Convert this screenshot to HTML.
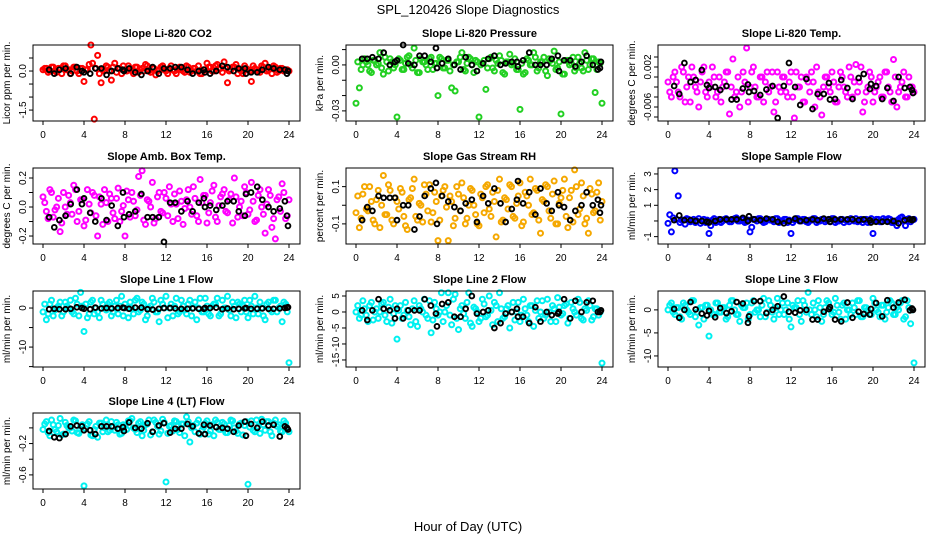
<!DOCTYPE html>
<html><head><meta charset="utf-8"><style>
body{margin:0;background:#fff;}
svg{display:block;font-family:"Liberation Sans",Arial,sans-serif;}
</style></head><body>
<svg id="chart" width="936" height="540" viewBox="0 0 936 540" xmlns="http://www.w3.org/2000/svg">
<rect width="936" height="540" fill="#fff"/>
<text x="468" y="14" text-anchor="middle" font-size="13">SPL_120426  Slope Diagnostics</text>
<text x="468" y="531" text-anchor="middle" font-size="13">Hour of Day (UTC)</text>
</svg>
<script>
// ---- data ----
const hoursColor = [0,0.33,0.67,1,1.33,1.67,2,2.33,2.67,3,3.33,3.67,4,4.33,4.67,5,5.33,5.67,6,6.33,6.67,7,7.33,7.67,8,8.33,8.67,9,9.33,9.67,10,10.33,10.67,11,11.33,11.67,12,12.33,12.67,13,13.33,13.67,14,14.33,14.67,15,15.33,15.67,16,16.33,16.67,17,17.33,17.67,18,18.33,18.67,19,19.33,19.67,20,20.33,20.67,21,21.33,21.67,22,22.33,22.67,23,23.33,23.67,24];
const hoursColor2 = [0.17,0.5,0.83,1.17,1.5,1.83,2.17,2.5,2.83,3.17,3.5,3.83,4.17,4.5,4.83,5.17,5.5,5.83,6.17,6.5,6.83,7.17,7.5,7.83,8.17,8.5,8.83,9.17,9.5,9.83,10.17,10.5,10.83,11.17,11.5,11.83,12.17,12.5,12.83,13.17,13.5,13.83,14.17,14.5,14.83,15.17,15.5,15.83,16.17,16.5,16.83,17.17,17.5,17.83,18.17,18.5,18.83,19.17,19.5,19.83,20.17,20.5,20.83,21.17,21.5,21.83,22.17,22.5,22.83,23.17,23.5,23.83];
const hoursBlack = [0.6,1.1,1.6,2.2,2.7,3.3,3.8,4.0,4.6,5.1,5.7,6.2,6.7,7.3,7.8,7.9,8.4,9.0,9.6,10.2,10.7,11.3,11.8,12.4,12.9,13.5,14.1,14.6,15.2,15.7,15.8,16.3,16.9,17.5,18.0,18.6,19.1,19.7,19.8,20.3,20.9,21.4,22.0,22.5,23.1,23.6,23.8,23.9];
const xTicks = [0,4,8,12,16,20,24];

const co2Color = [0.05,0.1,0.0,0.15,-0.05,0.1,0.2,0.05,-0.1,0.15,0.0,0.1,-0.4,0.05,1.0,-1.85,0.6,-0.45,0.0,0.15,-0.35,0.3,0.1,-0.1,0.05,0.2,0.0,0.15,-0.05,0.1,0.25,0.0,0.1,-0.15,0.05,0.2,0.0,0.1,0.05,-0.1,0.15,0.0,0.2,-0.05,0.1,0.0,-0.1,0.05,0.3,0.15,0.0,0.25,0.1,0.35,-0.45,0.05,0.15,-0.1,0.0,0.2,0.05,-0.4,0.1,0.0,0.2,0.3,0.05,-0.1,0.15,0.0,0.1,0.05,0.0];
const co2Color2 = [0.1,-0.05,0.15,0.0,0.1,-0.1,0.2,0.05,0.0,0.15,-0.1,0.1,0.05,0.25,0.3,0.1,-0.1,0.05,0.2,0.0,0.15,-0.05,0.1,0.2,0.0,0.1,-0.1,0.15,0.05,0.0,0.2,-0.05,0.1,0.0,0.15,0.05,-0.1,0.2,0.0,0.1,0.05,-0.05,0.15,0.0,0.1,0.2,-0.1,0.05,0.15,0.0,0.2,0.1,-0.05,0.1,0.0,0.15,0.25,0.05,-0.1,0.1,0.0,0.2,0.05,-0.05,0.15,0.0,0.1,0.2,-0.05,0.1,0.0,0.05];
const co2Black = [0.05,-0.1,0.05,0.1,-0.1,0.15,0.0,-0.05,-0.1,0.1,0.1,-0.15,0.0,0.1,0.05,0.0,0.1,-0.05,-0.15,0.0,0.15,-0.1,0.1,0.1,0.15,0.15,0.05,-0.1,0.0,0.05,-0.05,-0.1,0.0,0.2,0.15,0.0,0.1,0.1,-0.1,-0.05,-0.05,0.05,0.15,0.1,0.05,0.05,-0.1,0.0];
const presColor = [-0.025,-0.015,0.0,0.002,-0.004,0.003,0.0,0.008,-0.006,0.002,0.004,-0.002,-0.034,0.003,-0.003,0.005,0.0,0.011,-0.005,0.004,0.002,-0.003,0.005,0.001,-0.02,0.004,-0.002,0.003,-0.015,-0.017,0.002,0.008,-0.004,0.005,0.0,0.003,-0.034,0.001,-0.016,0.004,-0.002,0.003,0.006,-0.005,0.002,0.007,0.001,-0.003,-0.029,-0.006,0.004,0.0,0.008,-0.004,0.002,0.005,-0.007,0.003,0.009,-0.002,-0.032,-0.006,0.003,0.001,-0.004,0.005,-0.002,0.008,-0.003,0.004,-0.018,0.002,-0.025];
const presColor2 = [0.002,-0.003,0.004,0.0,-0.005,0.003,0.001,-0.002,0.005,-0.004,0.002,0.0,0.004,-0.003,0.001,0.006,-0.002,0.003,-0.005,0.002,0.0,0.004,-0.003,0.001,0.005,-0.002,0.003,-0.004,0.0,0.002,0.005,-0.003,0.001,0.004,-0.005,0.002,0.0,0.003,-0.002,0.005,-0.004,0.001,0.003,-0.006,0.002,0.0,0.004,-0.003,0.001,-0.005,0.003,0.0,0.005,-0.002,0.002,-0.004,0.004,0.001,-0.003,0.002,-0.006,0.003,0.0,0.005,-0.002,0.001,-0.004,0.003,0.0,0.004,-0.003,0.001];
const presBlack = [0.004,0.004,0.005,0.004,0.008,0.0,0.002,0.003,0.013,0.001,0.0,0.006,0.006,0.002,0.011,-0.002,0.001,0.004,0.0,-0.003,0.005,0.0,-0.004,0.001,0.004,0.006,0.0,0.001,0.002,0.002,-0.001,0.003,0.008,0.0,0.0,0.0,0.004,0.006,-0.004,0.003,0.003,-0.001,0.002,0.006,0.0,-0.003,-0.002,0.002];
const tempColor = [-0.001,-0.004,0.001,-0.003,0.002,-0.005,0.0,0.002,-0.002,-0.006,0.001,-0.003,-0.001,0.002,-0.004,0.0,-0.002,0.001,-0.0074,0.0036,-0.003,-0.006,0.001,0.0058,-0.002,0.002,-0.004,0.0,-0.005,0.001,-0.002,-0.007,0.001,-0.003,0.0,-0.004,0.001,-0.0082,-0.002,0.0,-0.005,-0.001,0.001,-0.006,-0.003,-0.0076,0.0,-0.002,0.001,-0.005,-0.002,0.0,-0.003,0.002,-0.004,0.0025,-0.001,-0.007,-0.003,0.001,-0.005,-0.002,0.0,-0.004,0.001,-0.003,0.0035,-0.006,-0.002,0.001,-0.004,-0.002,-0.003];
const tempColor2 = [-0.003,0.0,-0.001,-0.004,0.001,-0.002,-0.005,0.0,-0.003,-0.001,0.002,-0.004,-0.002,0.0,-0.003,-0.005,-0.001,0.001,-0.002,-0.004,0.0,-0.003,-0.001,-0.005,0.001,-0.002,-0.004,0.0,-0.001,-0.003,0.001,-0.005,-0.002,0.0,-0.003,-0.001,-0.004,0.001,-0.002,-0.005,0.0,-0.003,-0.001,0.002,-0.004,-0.002,0.0,-0.003,-0.001,-0.005,0.001,-0.002,-0.004,0.0,-0.001,-0.003,0.002,-0.005,-0.002,0.0,-0.003,-0.001,-0.004,0.001,-0.002,-0.005,0.0,-0.003,-0.001,-0.004,0.0,-0.002];
const tempBlack = [-0.0018,-0.0034,0.0028,-0.001,-0.0006,0.0014,-0.0016,-0.0022,-0.002,-0.0026,-0.0018,-0.0045,-0.0045,-0.0023,-0.0015,-0.003,-0.0028,-0.0036,-0.0025,-0.0018,-0.0082,-0.0018,0.0028,-0.002,-0.0056,-0.0004,-0.0064,-0.0034,-0.0034,-0.0012,-0.0045,-0.0044,-0.0006,-0.0022,-0.0044,-0.0002,0.0006,-0.0024,-0.0014,-0.0018,-0.0044,-0.0022,-0.0048,0.0,-0.0022,-0.002,-0.0026,-0.0032];
const ambColor = [0.07,-0.03,0.12,-0.07,0.0,-0.17,0.1,-0.05,0.03,0.15,-0.1,0.05,-0.13,0.12,-0.04,0.08,-0.2,0.02,0.12,-0.1,0.06,-0.08,0.13,-0.03,-0.2,0.05,0.1,-0.06,0.21,0.25,-0.12,0.04,0.17,-0.08,0.1,-0.04,0.06,0.14,-0.1,0.02,0.11,-0.12,0.05,0.0,0.14,-0.06,0.19,0.08,-0.11,0.03,0.15,-0.1,0.07,0.12,-0.04,0.09,0.2,-0.07,0.04,0.14,-0.05,0.17,-0.1,0.08,0.0,-0.18,0.12,-0.14,-0.22,0.07,0.16,-0.08,0.05];
const ambColor2 = [0.03,-0.08,0.1,-0.02,0.06,-0.11,0.0,0.08,-0.05,0.12,-0.03,0.05,-0.09,0.02,0.1,-0.06,0.07,-0.12,0.03,0.09,-0.04,0.06,-0.1,0.01,0.11,-0.07,0.04,-0.02,0.08,-0.09,0.05,0.0,-0.11,0.07,-0.03,0.1,-0.06,0.02,0.09,-0.08,0.04,-0.01,0.12,-0.05,0.06,-0.1,0.03,0.08,-0.04,0.11,-0.07,0.01,0.09,-0.03,0.05,-0.11,0.07,0.0,-0.06,0.1,-0.02,0.04,-0.09,0.12,-0.05,0.02,0.08,-0.08,0.05,-0.03,0.1,-0.06];
const ambBlack = [-0.07,-0.14,-0.09,-0.06,0.02,0.12,0.02,0.06,-0.04,-0.1,0.06,-0.09,0.01,-0.13,0.1,-0.07,-0.05,-0.03,0.09,-0.07,-0.07,-0.07,-0.24,0.03,0.03,-0.03,0.04,-0.03,0.03,0.06,0.0,0.01,-0.02,0.01,0.04,0.04,-0.03,-0.06,0.09,0.1,0.14,0.05,0.0,-0.03,-0.01,0.04,-0.06,-0.13];
const rhColor = [-0.04,-0.12,0.06,-0.02,0.1,-0.08,0.03,-0.12,0.16,-0.05,0.08,-0.1,0.02,0.09,-0.06,-0.13,0.04,0.14,-0.08,0.0,0.11,-0.03,-0.09,0.07,-0.19,0.05,0.1,-0.19,0.02,-0.07,0.06,0.12,-0.1,0.0,0.08,-0.05,-0.11,0.04,0.1,-0.02,0.07,-0.17,0.14,-0.08,0.03,0.11,-0.06,0.01,0.12,-0.09,0.05,0.14,-0.04,0.08,-0.15,0.02,0.1,-0.07,0.13,-0.1,0.04,0.14,-0.12,0.08,0.19,-0.05,0.12,-0.1,-0.15,0.06,-0.03,0.12,0.02];
const rhColor2 = [0.05,-0.07,0.1,-0.03,0.02,-0.1,0.08,0.0,-0.05,0.11,-0.08,0.04,-0.02,0.07,-0.11,0.03,0.09,-0.06,0.01,-0.09,0.06,0.11,-0.04,0.02,-0.08,0.08,-0.01,0.05,-0.11,0.1,-0.03,0.04,-0.07,0.09,0.0,-0.1,0.06,-0.04,0.11,-0.06,0.02,0.08,-0.09,0.04,-0.02,0.1,-0.07,0.05,-0.11,0.07,0.0,-0.05,0.09,-0.08,0.03,0.11,-0.03,0.06,-0.1,0.01,0.08,-0.06,0.04,-0.09,0.1,-0.02,0.05,-0.07,0.09,-0.04,0.07,-0.08];
const rhBlack = [-0.08,-0.01,-0.03,0.05,0.04,0.04,0.04,-0.08,0.0,0.0,-0.13,-0.06,0.05,0.09,0.12,-0.1,0.05,0.02,-0.01,-0.03,0.01,0.03,-0.09,0.05,0.01,0.09,0.01,-0.09,-0.02,0.03,0.13,0.01,0.07,-0.05,0.09,0.01,-0.03,0.07,0.0,-0.01,-0.08,-0.03,0.0,0.07,0.0,0.03,-0.04,0.0];
const sampColor = [-0.15,-0.7,3.2,1.6,0.05,-0.2,0.1,0.0,-0.1,0.15,0.0,-0.1,-0.8,0.05,-0.1,0.1,0.0,0.15,-0.05,0.1,0.2,0.0,0.1,-0.05,-0.7,0.1,0.0,0.15,-0.1,0.1,0.05,-0.05,0.15,0.0,0.1,-0.1,-0.8,0.05,0.15,0.0,0.1,-0.1,0.05,0.15,0.0,0.1,-0.05,0.1,0.15,-0.1,0.0,0.1,0.05,-0.05,0.1,0.15,0.0,-0.1,0.1,0.0,-0.8,0.1,-0.05,0.15,0.0,0.1,-0.1,-0.3,0.2,0.0,0.1,-0.05,0.1];
const sampColor2 = [0.4,0.2,0.1,-0.1,0.05,0.15,-0.05,0.1,0.0,-0.15,0.1,0.05,-0.3,0.15,0.0,-0.1,0.1,0.05,-0.05,0.15,0.0,0.1,-0.1,0.05,-0.4,0.1,0.15,0.0,-0.05,0.1,0.05,0.15,-0.1,0.0,0.1,0.05,-0.1,0.15,0.0,0.1,-0.05,0.05,0.15,-0.1,0.0,0.1,0.05,-0.05,0.15,0.0,0.1,-0.1,0.05,0.15,0.0,-0.05,0.1,0.05,-0.1,0.15,0.0,0.1,-0.05,0.05,0.15,-0.1,0.0,0.1,0.25,-0.3,0.15,0.05];
const sampBlack = [0.05,0.35,0.05,0.05,0.0,0.0,-0.05,-0.1,0.0,0.1,0.1,0.1,0.1,0.2,0.0,0.3,0.1,0.05,0.15,0.1,-0.05,-0.15,0.0,0.15,0.0,0.05,0.1,0.05,0.15,0.1,-0.05,0.1,0.1,0.1,0.1,0.05,0.1,0.05,-0.1,-0.05,-0.05,-0.05,0.0,-0.15,0.05,0.1,0.05,0.1];
const l1Color = [-1,-3,1,-2,0,1.5,-1,0.5,2,-1.5,1,4,-6,-2.5,1.5,-1.5,-1,2,0,1,-2,0.5,-1.5,3,1,-2.5,0,2,-1,1.5,-3,0,2.5,-1,-3.5,1,3,0,-2,2.5,-1,0.5,-1.5,2,0,-3,2.5,-1,0.5,-2,1,2.5,-1.5,0,3,-2,0.5,1.5,-1,2,-2.5,0.5,3,-1.5,0,-3,1.5,-1,2,0,-3.5,1,-14];
const l1Color2 = [1,-1.5,2,-0.5,0.5,-2,1.5,0,-1,2.5,-2,0.5,1,-1.5,2,0,-2.5,1,-0.5,1.5,-1,2,0.5,-2,0,1.5,-1.5,2.5,-0.5,1,-2,0.5,1.5,-1,2,0,-2.5,1,0.5,-1.5,2,-0.5,1,-2,1.5,0,-1,2.5,-1.5,0.5,1,-2,2,0,-0.5,1.5,-2.5,1,0.5,-1,2,-1.5,0,1.5,-2,1,-0.5,2,-1,0.5,1.5,-1];
const l1Black = [-0.3,-0.2,-0.3,-0.3,-0.2,0.2,0.0,-0.2,-0.3,0.1,-0.1,0.0,-0.1,0.0,0.1,0.0,-0.2,0.1,0.1,-0.3,-0.4,-0.2,0.0,0.0,-0.1,-0.2,-0.2,-0.1,-0.2,-0.2,0.0,0.0,0.1,-0.3,-0.1,-0.3,-0.2,-0.1,0.0,-0.2,-0.2,-0.1,-0.2,-0.2,-0.1,0.0,0.1,0.2];
const l2Color = [0,-2,3.5,-1,2,-2.5,1,0,3,-3,4,-0.5,-8.5,2,-1,0.5,-4,3.5,-4.5,1,4,-2,-6.5,3,-1,6,0,6,-4,5.5,-5.5,2,-2,6,-4.5,1,-3,4,-1.5,5,-4,2,6,-2,1,-5,3,0,-3,4,-1,2,-4.5,3.5,0,-2,4,-3,1,4.5,-1,2,-3.5,3,0,4,-2,1,3.5,-2.5,1,-1,-16];
const l2Color2 = [2,-1,1,-3,3,0,-2,2.5,-1,1.5,-3.5,2,0.5,-2,3,-1.5,1,-3,2,0,-1,3.5,-2.5,1,0,-3,2,-1,4,-2,1,-0.5,3,-3.5,1.5,0,-2,2.5,-1,0.5,3,-3,1,-1.5,2,0,-2.5,3,-1,1,-3,2,0.5,-2,3.5,-1,0,2,-3,1.5,-0.5,2.5,-2,1,-1,3,-2.5,0.5,2,-1.5,1,0];
const l2Black = [0.5,-2.5,0.5,4,1,0.5,-2,1,-2,0.5,0.5,0.5,4,2,-0.5,-4.5,2.5,3,-1.5,-1.5,1,5,-0.5,0,0.5,-5,-3.5,-0.5,0,1,-1.5,-1.5,-3.5,1.5,-3,0,-1,-0.5,0,4,-2,3.5,0,3,3.5,0,0,0.5];
const l3Color = [0,1.5,-1,0.5,-2,1,-0.5,2,-1.5,-3.3,0.5,1,-5.7,-1,1.5,-0.5,0.5,-2,1,2,-1,-2.5,0.5,1.5,-1,2,0,-1.5,2.5,-0.5,1,-2,2.5,0,-1,1.5,-3.7,0.5,2,-2.5,1,3.8,-1,0,2,-2.5,0.5,1.5,-1,2.5,-0.5,1,-2,0,1.5,-1,2,-1.5,0.5,-1,2.5,0,-1.5,1,-0.5,2,-1,0.5,1.5,-2,2,-3,-11.5];
const l3Color2 = [1,-0.5,0.5,-1.5,1.5,0,-1,2,-0.5,0.5,-2,1,0,-1,1.5,-0.5,0.5,-1.5,2,0,-1,1,0.5,-2,1.5,-0.5,0,1,-1.5,2,-0.5,0.5,-1,1.5,0,-2,1,0.5,-1,2,-0.5,0,1.5,-1.5,0.5,-1,2,0,-0.5,1,-2,1.5,0,-1,0.5,2,-1.5,0.5,0,-1,1.5,-0.5,1,-2,0.5,1.5,-1,0,2,-1.5,0.5,0];
const l3Black = [0.2,-1.7,0.0,1.7,0.1,-0.8,-1.2,-0.2,-1.6,0.4,-0.7,-0.3,1.7,1.4,-2.8,-1.4,1.9,1.9,-0.7,0.0,0.8,2.9,-0.4,-0.6,-0.1,0.0,-2.1,-2.1,-0.4,0.2,0.6,-2.1,-2.5,1.6,-1.7,-0.4,-0.9,-1.0,0.2,1.5,-1.4,2.1,0.5,1.6,2.2,-0.1,0.3,0.0];
const l4Color = [-0.02,0.08,-0.1,0.04,-0.05,0.12,-0.08,0.03,0.0,0.1,-0.06,0.02,-0.74,0.05,-0.09,-0.02,-0.12,0.06,0.0,-0.05,0.08,-0.03,0.04,-0.07,0.02,0.09,0.12,-0.02,0.06,-0.1,0.04,0.1,-0.05,0.07,-0.08,0.11,-0.69,0.02,-0.04,0.08,-0.06,0.05,0.14,-0.18,0.03,0.06,-0.08,0.01,0.09,-0.04,-0.1,0.07,-0.02,0.05,-0.06,0.1,0.0,-0.07,0.06,0.03,-0.72,0.09,-0.05,0.02,0.11,-0.03,0.08,-0.1,0.1,0.04,-0.05,0.06,-0.05];
const l4Color2 = [0.05,-0.06,0.1,-0.02,0.03,-0.09,0.07,0.0,-0.04,0.09,-0.07,0.04,-0.01,0.08,-0.1,0.02,0.06,-0.05,0.1,-0.03,0.01,0.07,-0.08,0.04,-0.02,0.09,0.0,-0.06,0.08,-0.03,0.05,-0.09,0.1,0.02,-0.04,0.07,-0.07,0.03,0.09,-0.02,0.05,-0.1,0.08,0.0,-0.05,0.1,-0.03,0.06,-0.08,0.04,0.1,-0.02,0.07,-0.06,0.03,0.09,-0.04,0.05,-0.09,0.08,0.01,-0.03,0.1,-0.07,0.04,0.08,-0.05,0.06,0.02,-0.04,0.09,-0.02];
const l4Black = [-0.04,-0.12,-0.13,-0.08,0.02,0.03,0.02,-0.03,-0.03,-0.08,0.02,0.02,0.02,-0.01,0.01,-0.04,0.07,0.0,-0.01,0.06,-0.05,0.03,0.06,-0.06,-0.01,-0.01,0.05,0.02,-0.07,0.04,-0.08,0.03,0.01,0.0,-0.01,-0.05,0.03,0.08,-0.1,0.05,0.0,0.08,0.03,0.04,-0.11,0.02,0.0,-0.02];

// ---- panel layout (geometry, not data) ----
const cols=[33,346,658], rows=[45,168,291,413], W=267, H=76;
const panels=[
 {name:"co2",title:"Slope Li-820 CO2",yl:"Licor ppm per min.",c:0,r:0,col:"#ff0000",cv:co2Color,cv2:co2Color2,bv:co2Black,y0:1.0,y1:-1.92,
  ticks:[0.5,0,-0.5,-1,-1.5],labs:["","0.0","","","-1.5"]},
 {name:"pressure",title:"Slope Li-820 Pressure",yl:"kPa per min.",c:1,r:0,col:"#22d022",cv:presColor,cv2:presColor2,bv:presBlack,y0:0.013,y1:-0.0366,
  ticks:[0.01,0,-0.01,-0.02,-0.03],labs:["","0.00","","","-0.03"]},
 {name:"temp",title:"Slope Li-820 Temp.",yl:"degrees C per min.",c:2,r:0,col:"#ff00ff",cv:tempColor,cv2:tempColor2,bv:tempBlack,y0:0.0064,y1:-0.0088,
  ticks:[0.004,0.002,0,-0.002,-0.004,-0.006,-0.008],labs:["","0.002","","","","-0.006",""]},
 {name:"amb-box-temp",title:"Slope Amb. Box Temp.",yl:"degrees C per min.",c:0,r:1,col:"#ff00ff",cv:ambColor,cv2:ambColor2,bv:ambBlack,y0:0.269,y1:-0.255,
  ticks:[0.2,0.1,0,-0.1,-0.2],labs:["0.2","","0.0","","-0.2"]},
 {name:"gas-rh",title:"Slope Gas Stream RH",yl:"percent per min.",c:1,r:1,col:"#f5a800",cv:rhColor,cv2:rhColor2,bv:rhBlack,y0:0.2,y1:-0.208,
  ticks:[0.1,0,-0.1],labs:["0.1","","-0.1"]},
 {name:"sample-flow",title:"Slope Sample Flow",yl:"ml/min per min.",c:2,r:1,col:"#0000ff",cv:sampColor,cv2:sampColor2,bv:sampBlack,y0:3.38,y1:-1.47,
  ticks:[3,2,1,0,-1],labs:["3","2","1","","-1"]},
 {name:"line1-flow",title:"Slope Line 1 Flow",yl:"ml/min per min.",c:0,r:2,col:"#00f0f0",cv:l1Color,cv2:l1Color2,bv:l1Black,y0:4.36,y1:-15.1,
  ticks:[0,-5,-10,-15],labs:["0","","-10",""]},
 {name:"line2-flow",title:"Slope Line 2 Flow",yl:"ml/min per min.",c:1,r:2,col:"#00f0f0",cv:l2Color,cv2:l2Color2,bv:l2Black,y0:6.56,y1:-17.2,
  ticks:[5,0,-5,-10,-15],labs:["5","0","-5","-10","-15"]},
 {name:"line3-flow",title:"Slope Line 3 Flow",yl:"ml/min per min.",c:2,r:2,col:"#00f0f0",cv:l3Color,cv2:l3Color2,bv:l3Black,y0:4.1,y1:-12.4,
  ticks:[0,-5,-10],labs:["0","-5","-10"]},
 {name:"line4-flow",title:"Slope Line 4 (LT) Flow",yl:"ml/min per min.",c:0,r:3,col:"#00f0f0",cv:l4Color,cv2:l4Color2,bv:l4Black,y0:0.19,y1:-0.78,
  ticks:[0,-0.2,-0.4,-0.6],labs:["","-0.2","","-0.6"]}
];
const NS="http://www.w3.org/2000/svg";
const svg=document.getElementById('chart');
function mk(tag,attrs,parent){const e=document.createElementNS(NS,tag);for(const k in attrs)e.setAttribute(k,attrs[k]);(parent||svg).appendChild(e);return e;}
panels.forEach(p=>{
  const L=cols[p.c],T=rows[p.r],R=L+W,B=T+H;
  const xs=h=>L+10+h*(W-21)/24;
  const ys=v=>T+(p.y0-v)/(p.y0-p.y1)*H;
  const g=mk('g',{});
  
  
  const t=mk('text',{x:(L+R)/2,y:T-8,'text-anchor':'middle','font-size':11,'font-weight':'bold'},g);
  t.textContent=p.title;
  
  
  const yt=mk('text',{x:0,y:0,'text-anchor':'middle','font-size':10,transform:`translate(${L-23},${T+H/2}) rotate(-90)`},g);
  yt.textContent=p.yl;
  
  
  const pts=mk('g',{fill:'none',stroke:p.col,'stroke-width':2},g);
  
  
  p.cv.forEach((v,i)=>{
    if(hoursColor[i]===undefined) return;
    const c=mk('circle',{cx:xs(hoursColor[i]),cy:ys(v),r:2.5},pts);
    
    
  });
  p.cv2.forEach((v,i)=>{
    if(hoursColor2[i]===undefined) return;
    const c=mk('circle',{cx:xs(hoursColor2[i]),cy:ys(v),r:2.5},pts);
    
    
  });
  const bp=mk('g',{fill:'none',stroke:'#000','stroke-width':1.9},g);
  
  
  p.bv.forEach((v,i)=>{
    if(hoursBlack[i]===undefined) return;
    const c=mk('circle',{cx:xs(hoursBlack[i]),cy:ys(v),r:2.4},bp);
    
    
  });
  const box=mk('rect',{x:L,y:T,width:W,height:H,fill:'none',stroke:'#000','stroke-width':1},g);
  
  
  xTicks.forEach(h=>{
    const x=xs(h);
    mk('line',{x1:x,x2:x,y1:B,y2:B+4,stroke:'#000'},g);
    const lt=mk('text',{x:x,y:B+17,'text-anchor':'middle','font-size':10},g);
    lt.textContent=h;
    
    
  });
  p.ticks.forEach((v,i)=>{
    const y=ys(v);
    mk('line',{x1:L-4,x2:L,y1:y,y2:y,stroke:'#000'},g);
    if(p.labs[i]){
      const lt=mk('text',{x:0,y:0,'text-anchor':'middle','font-size':10,transform:`translate(${L-7},${y}) rotate(-90)`},g);
      lt.textContent=p.labs[i];
      
      
    }
  });
});
</script>
</body></html>
